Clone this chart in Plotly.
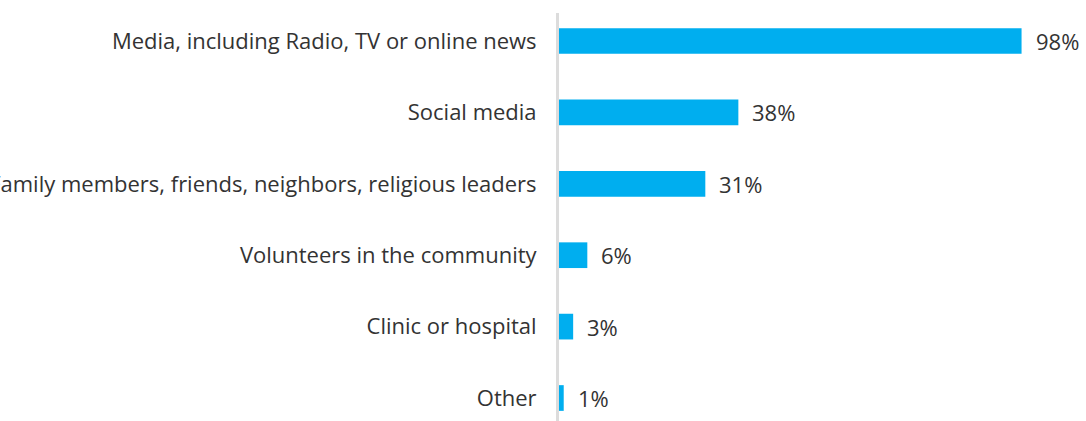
import plotly.graph_objects as go

# Sources of information, share of respondents (%)
categories = [
    "Media, including Radio, TV or online news",
    "Social media",
    "Family members, friends, neighbors, religious leaders",
    "Volunteers in the community",
    "Clinic or hospital",
    "Other",
]
values = [98, 38, 31, 6, 3, 1]
value_labels = [f"{v}%" for v in values]

BAR_COLOR = "#00AEEF"
TEXT_COLOR = "#333333"
FONT = "'Open Sans', sans-serif"

fig = go.Figure(
    go.Bar(
        x=values,
        y=categories,
        orientation="h",
        marker=dict(color=BAR_COLOR, line=dict(width=0)),
        width=0.36,
        hoverinfo="skip",
    )
)

# value labels just past the end of each bar
for cat, v, lab in zip(categories, values, value_labels):
    fig.add_annotation(
        x=v, y=cat, text=lab, xref="x", yref="y",
        xanchor="left", yanchor="middle", xshift=12, showarrow=False,
        font=dict(size=22, color=TEXT_COLOR, family=FONT),
    )

fig.update_layout(
    width=1086,
    height=421,
    margin=dict(l=559, r=55, t=13, b=0, autoexpand=False),
    plot_bgcolor="white",
    paper_bgcolor="white",
    showlegend=False,
    font=dict(family=FONT, size=22, color=TEXT_COLOR),
    xaxis=dict(
        range=[0, 100],
        showgrid=False, zeroline=False, showline=False,
        showticklabels=False, ticks="",
    ),
    yaxis=dict(
        range=[5.322, -0.392],
        showgrid=False, zeroline=False,
        showline=True, linecolor="#dcdcdc", linewidth=3,
        ticks="", ticklabelstandoff=15,
        automargin=False,
        tickfont=dict(size=22, color=TEXT_COLOR, family=FONT),
    ),
)

fig.write_html("out.html")
